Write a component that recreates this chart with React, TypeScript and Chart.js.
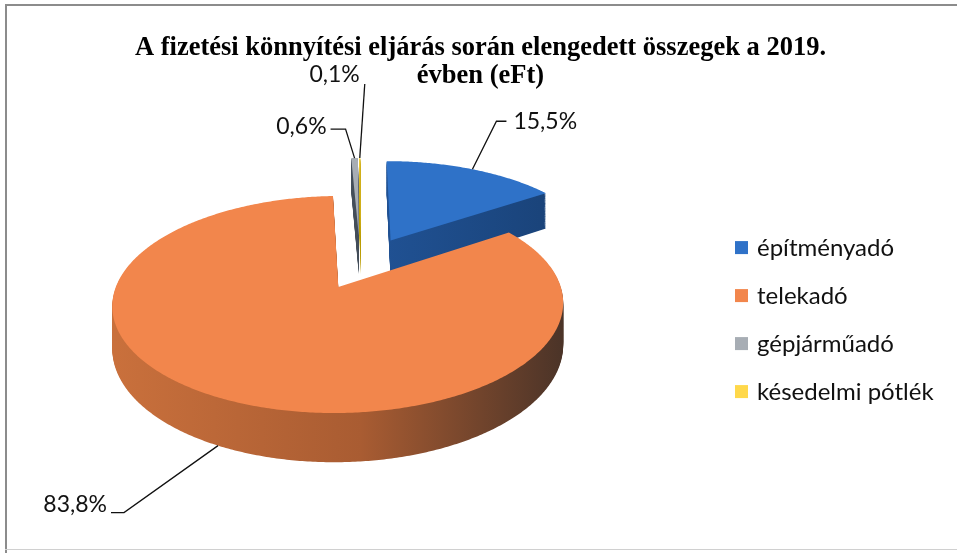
import React, { useEffect, useRef } from "react";
import { Chart, registerables } from "chart.js";

Chart.register(...registerables);

// ---- data ----
const TITLE_LINES = [
  "A fizetési könnyítési eljárás során elengedett összegek a 2019.",
  "évben (eFt)",
];
const CATEGORIES = ["építményadó", "telekadó", "gépjárműadó", "késedelmi pótlék"];
const SHARES = [15.5, 83.8, 0.6, 0.1];
const VALUE_LABELS = ["15,5%", "83,8%", "0,6%", "0,1%"];

// ---- styles ----
const TOP_COLORS = ["#2F72C8", "#F2864C", "#A7ADB4", "#FFD84A"];
const SIDE_STOPS: string[][] = [
  ["#2760AE", "#1F4F8F", "#183F72"],
  ["#C9703C", "#A95C32", "#4C3428"],
  ["#6C7784", "#3E4854", "#2C333C"],
  ["#D8B400", "#B89A00", "#8C7600"],
];
const OFFSETS = [70, 50, 72, 72];
const RADIUS = 225;
// perspective camera
const CAM_DIST = 1437;
const SCALE_X = 0.958;
const SCALE_Y = 0.441;
const DEPTH = 40;
const LIFT = 57;
const LEGEND_SPACE = 240; // width reserved at the right for the legend
const LABEL_FONT = "23px Lato";
const LEGEND_FONT = "24px Lato";
const LEGEND_BOX = 13;
const LEGEND_ROW = 48;

// leader geometry per slice
const LEADERS: { ex: number; ey: number; tx: number; bottom: boolean; above?: boolean; ty: number; gap: number }[] = [
  { ex: 24, ey: -48, tx: 10, bottom: false, ty: 0, gap: 7 },
  { ex: -94, ey: 67, tx: -13, bottom: true, ty: -8, gap: 4 },
  { ex: -9, ey: -29, tx: -15, bottom: false, ty: -2, gap: 4 },
  { ex: 5, ey: -74, tx: 0, bottom: false, above: true, ty: -9, gap: 5 },
];

type Slice = { i: number; ox: number; oz: number; r: number; s: number; e: number; mid: number };

function makeProjector(cx: number, cy: number) {
  return (X: number, Z: number, h: number): [number, number] => {
    const k = CAM_DIST / (CAM_DIST - Z);
    return [cx + X * k * SCALE_X, cy + Z * k * SCALE_Y + h * k];
  };
}

function sectorPath(ctx: CanvasRenderingContext2D, proj: any, sl: Slice, h: number) {
  const n = Math.max(2, Math.ceil((sl.e - sl.s) / 0.01));
  ctx.beginPath();
  const [x0, y0] = proj(sl.ox, sl.oz, h);
  ctx.moveTo(x0, y0);
  for (let j = 0; j <= n; j++) {
    const a = sl.s + ((sl.e - sl.s) * j) / n;
    const [x, y] = proj(sl.ox + Math.cos(a) * sl.r, sl.oz + Math.sin(a) * sl.r, h);
    ctx.lineTo(x, y);
  }
  ctx.closePath();
}

const pie3d = {
  id: "pie3d",
  beforeDatasetsDraw(chart: any) {
    const ctx: CanvasRenderingContext2D = chart.ctx;
    const meta = chart.getDatasetMeta(0);
    let cx = 0;
    let cy = 0;
    const items: Slice[] = meta.data.map((el: any, i: number) => {
      const p = el.getProps(["x", "y", "startAngle", "endAngle", "outerRadius"], true);
      cx = p.x - LEGEND_SPACE / 2;
      cy = p.y - LIFT;
      const off = el.options.offset || 0;
      const mid = (p.startAngle + p.endAngle) / 2;
      return { i, ox: Math.cos(mid) * off, oz: Math.sin(mid) * off, r: p.outerRadius, s: p.startAngle, e: p.endAngle, mid };
    });
    const proj = makeProjector(cx, cy);
    const order = [...items].sort((a, b) => a.oz - b.oz);
    // side walls: stacked layers below the top face
    for (const sl of order) {
      const [lx] = proj(sl.ox - sl.r, sl.oz, 0);
      const [rx] = proj(sl.ox + sl.r, sl.oz, 0);
      const g = ctx.createLinearGradient(lx, 0, rx, 0);
      const st = SIDE_STOPS[sl.i];
      g.addColorStop(0, st[0]);
      g.addColorStop(0.55, st[1]);
      g.addColorStop(1, st[2]);
      ctx.fillStyle = g;
      for (let h = DEPTH; h >= 1; h--) {
        sectorPath(ctx, proj, sl, h);
        ctx.fill();
      }
    }
    // top faces
    for (const sl of order) {
      sectorPath(ctx, proj, sl, 0);
      ctx.fillStyle = TOP_COLORS[sl.i];
      ctx.fill();
    }
    // value labels with leader lines
    ctx.save();
    ctx.strokeStyle = "#111";
    ctx.lineWidth = 1.3;
    ctx.fillStyle = "#111";
    ctx.font = LABEL_FONT;
    ctx.textBaseline = "middle";
    for (const sl of items) {
      const L = LEADERS[sl.i];
      const [ax, ay] = proj(sl.ox + Math.cos(sl.mid) * sl.r, sl.oz + Math.sin(sl.mid) * sl.r, L.bottom ? DEPTH : 0);
      const bx = ax + L.ex;
      const by = ay + L.ey;
      const tx = bx + L.tx;
      ctx.beginPath();
      ctx.moveTo(ax, ay);
      ctx.lineTo(bx, by);
      ctx.lineTo(tx, by);
      ctx.stroke();
      if (L.above || L.tx < 0) {
        ctx.textAlign = "right";
        ctx.fillText(VALUE_LABELS[sl.i], tx - L.gap, by + L.ty);
      } else {
        ctx.textAlign = "left";
        ctx.fillText(VALUE_LABELS[sl.i], tx + L.gap, by + L.ty);
      }
    }
    ctx.restore();

    // legend in the reserved right-hand space
    const area = chart.chartArea;
    const labels: string[] = chart.data.labels;
    const colors: string[] = chart.data.datasets[0].backgroundColor;
    const midY = (area.top + area.bottom) / 2 - 4;
    const x0 = area.right - LEGEND_SPACE + 18;
    ctx.save();
    ctx.font = LEGEND_FONT;
    ctx.textBaseline = "middle";
    ctx.textAlign = "left";
    labels.forEach((lab, i) => {
      const y = midY + (i - (labels.length - 1) / 2) * LEGEND_ROW;
      ctx.fillStyle = colors[i];
      ctx.fillRect(x0, y - LEGEND_BOX / 2, LEGEND_BOX, LEGEND_BOX);
      ctx.fillStyle = "#111";
      ctx.fillText(lab, x0 + LEGEND_BOX + 9, y + 1);
    });
    ctx.restore();
    return false;
  },
};

export default function App() {
  const ref = useRef<HTMLCanvasElement>(null);
  useEffect(() => {
    if (!ref.current) return;
    const chart = new Chart(ref.current, {
      type: "pie",
      data: {
        labels: CATEGORIES,
        datasets: [
          {
            data: SHARES,
            backgroundColor: TOP_COLORS,
            borderWidth: 0,
            offset: OFFSETS,
            radius: RADIUS,
          } as any,
        ],
      },
      options: {
        animation: false,
        responsive: false,
        maintainAspectRatio: false,
        layout: { padding: { left: 4, right: 0, top: 0, bottom: 0 } },
        plugins: {
          title: {
            display: true,
            text: TITLE_LINES,
            color: "#000",
            font: { family: "'Liberation Serif'", size: 26.5, weight: "bold", lineHeight: 1.06 },
            padding: { top: 34, bottom: 4 },
          },
          legend: { display: false },
          tooltip: { enabled: false },
        },
      },
      plugins: [pie3d],
    });
    return () => chart.destroy();
  }, []);
  return (
    <div style={{ position: "absolute", left: 0, top: 0, width: 957, height: 553, background: "#fff", overflow: "hidden" }}>
      <canvas ref={ref} width={957} height={553} style={{ display: "block" }} />
      <div style={{ position: "absolute", left: 5, top: 4, width: 952, height: 2, background: "#8c8c8c" }} />
      <div style={{ position: "absolute", left: 5, top: 4, width: 2, height: 549, background: "#8c8c8c" }} />
      <div style={{ position: "absolute", left: 5, top: 549, width: 952, height: 1, background: "#d0d0d0" }} />
    </div>
  );
}
